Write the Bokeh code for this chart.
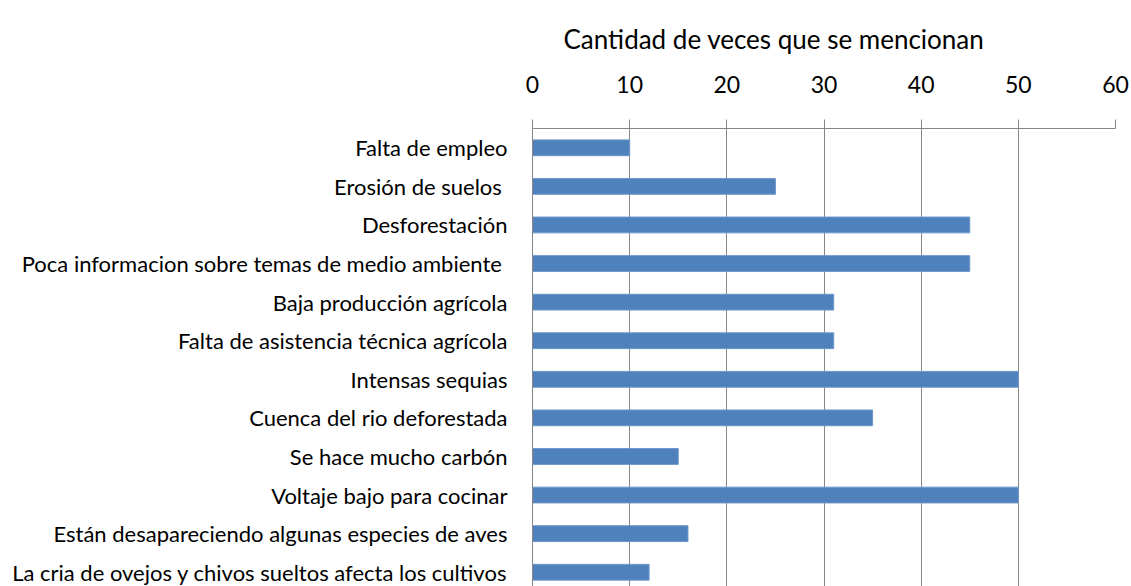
from bokeh.plotting import figure
from bokeh.models import Range1d, FixedTicker
from bokeh.embed import file_html
from bokeh.resources import INLINE

categories = [
    "Falta de empleo",
    "Erosión de suelos ",
    "Desforestación",
    "Poca informacion sobre temas  de medio ambiente",
    "Baja producción agrícola",
    "Falta de asistencia técnica agrícola",
    "Intensas sequias",
    "Cuenca del rio deforestada",
    "Se hace mucho carbón",
    "Voltaje bajo para cocinar",
    "Están desapareciendo algunas especies de aves",
    "La cria de ovejos y chivos sueltos afecta los cultivos",
]
values = [10, 25, 45, 45, 31, 31, 50, 35, 15, 50, 16, 12]
x_ticks = [0, 10, 20, 30, 40, 50, 60]
title_text = "Cantidad de veces que se mencionan"

positions = [i + 0.5 for i in range(len(categories))]

FONT = "Lato"
GRID = "#868686"

p = figure(width=1131, height=586, output_backend="svg", toolbar_location=None,
           x_range=Range1d(0, 60), y_range=Range1d(11.87, 0),
           x_axis_location="above",
           min_border_left=532, min_border_right=16, min_border_bottom=0, min_border_top=128)

p.hbar(y=positions, right=values, left=0, height=0.41, color="#4F81BD", line_color="#6f97c9", line_width=1)

p.outline_line_color = None
p.background_fill_color = "white"
p.border_fill_color = "white"

p.title.text = title_text
p.title.align = "left"
p.title.offset = 31
p.title.text_font = FONT
p.title.text_font_size = "26px"
p.title.text_font_style = "normal"
p.title.text_color = "#000000"
p.title.standoff = 36

xa = p.xaxis[0]
xa.ticker = FixedTicker(ticks=x_ticks)
xa.axis_line_color = GRID
xa.major_tick_line_color = GRID
xa.major_tick_out = 9
xa.major_tick_in = 0
xa.minor_tick_line_color = None
xa.major_label_text_font = FONT
xa.major_label_text_font_size = "23px"
xa.major_label_text_color = "#000000"
xa.major_label_standoff = 27

ya = p.yaxis[0]
ya.ticker = FixedTicker(ticks=positions)
ya.major_label_overrides = {pos: cat for pos, cat in zip(positions, categories)}
ya.axis_line_color = GRID
ya.major_tick_line_color = None
ya.major_tick_out = 0
ya.major_tick_in = 0
ya.minor_tick_line_color = None
ya.major_label_text_font = FONT
ya.major_label_text_font_size = "22px"
ya.major_label_text_color = "#000000"
ya.major_label_standoff = 25

p.xgrid.ticker = FixedTicker(ticks=x_ticks)
p.xgrid.grid_line_color = GRID
p.xgrid.grid_line_width = 1
p.ygrid.grid_line_color = None

open("out.html", "w").write(file_html(p, INLINE))
